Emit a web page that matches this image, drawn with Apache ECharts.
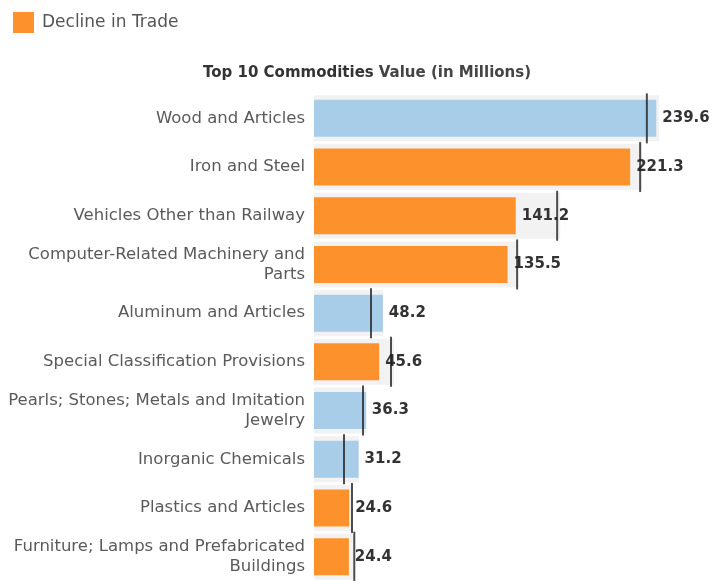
<!DOCTYPE html>
<html>
<head>
<meta charset="utf-8">
<script src="https://cdn.jsdelivr.net/npm/echarts@6/dist/echarts.min.js"></script>
<style>
  html, body { margin: 0; padding: 0; background: #ffffff; }
  #chart { width: 721px; height: 581px; }
</style>
</head>
<body>
<div id="chart"></div>
<script>
// Commodity names (line breaks where the labels wrap)
var commodities = [
  'Wood and Articles',
  'Iron and Steel',
  'Vehicles Other than Railway',
  'Computer-Related Machinery and\nParts',
  'Aluminum and Articles',
  'Special Classification Provisions',
  'Pearls; Stones; Metals and Imitation\nJewelry',
  'Inorganic Chemicals',
  'Plastics and Articles',
  'Furniture; Lamps and Prefabricated\nBuildings'
];

// Current trade value, in millions
var tradeValues = [239.6, 221.3, 141.2, 135.5, 48.2, 45.6, 36.3, 31.2, 24.6, 24.4];

// Comparison value shown by the vertical marker
var markerValues = [233.0, 228.3, 170.2, 142.2, 39.9, 53.9, 34.3, 21.0, 26.6, 28.2];

// Extent of the light grey range band behind each bar
var bandValues = [241.5, 229.7, 172.3, 142.9, 48.3, 56.0, 36.9, 31.5, 26.6, 28.2];

// Whether the commodity's trade declined
var declined = [false, true, true, true, false, true, false, false, true, true];

var ORANGE = '#fd912b';
var BLUE = '#a7cde9';
var FONT = 'DejaVu Sans';

function pick(flag) {
  return tradeValues.map(function (v, i) { return declined[i] === flag ? v : '-'; });
}

var valueLabel = {
  show: true,
  position: 'right',
  distance: 6,
  color: '#333333',
  fontFamily: FONT,
  fontSize: 15,
  fontWeight: 'bold'
};

var chart = echarts.init(document.getElementById('chart'), null, { renderer: 'canvas' });

chart.setOption({
  animation: false,
  backgroundColor: '#ffffff',
  title: {
    text: '{b|Top 10 Commodities} {n|Value (in Millions)}',
    left: 203,
    top: 64,
    padding: 0,
    textStyle: {
      rich: {
        b: { fontFamily: FONT, fontSize: 15, fontWeight: 'bold', color: '#333333' },
        n: { fontFamily: FONT, fontSize: 15, color: '#444444' }
      }
    }
  },
  legend: {
    left: 13,
    top: 12,
    padding: 0,
    itemWidth: 21,
    itemHeight: 21,
    data: [{ name: 'Decline in Trade', icon: 'rect' }],
    textStyle: { fontFamily: FONT, fontSize: 17, color: '#555555', padding: [0, 0, 0, 3] }
  },
  grid: { left: 314, right: 7, top: 94, bottom: 0, containLabel: false },
  xAxis: {
    type: 'value',
    min: 0,
    max: 280,
    show: false
  },
  yAxis: [
    {
      type: 'category',
      inverse: true,
      data: commodities,
      axisLine: { show: false },
      axisTick: { show: false },
      splitLine: { show: false },
      axisLabel: {
        margin: 9,
        fontFamily: FONT,
        fontSize: 16.5,
        lineHeight: 20,
        color: '#5a5a5a',
        align: 'right'
      }
    },
    {
      type: 'category',
      inverse: true,
      data: commodities,
      show: false
    }
  ],
  series: [
    {
      name: 'Range',
      type: 'bar',
      yAxisIndex: 1,
      barWidth: 46,
      silent: true,
      itemStyle: { color: '#f2f2f2' },
      data: bandValues,
      z: 1
    },
    {
      name: 'Decline in Trade',
      type: 'bar',
      yAxisIndex: 0,
      barWidth: 37,
      barGap: '-100%',
      itemStyle: { color: ORANGE },
      label: valueLabel,
      data: pick(true),
      z: 2
    },
    {
      name: 'Growth in Trade',
      type: 'bar',
      yAxisIndex: 0,
      barWidth: 37,
      barGap: '-100%',
      itemStyle: { color: BLUE },
      label: valueLabel,
      data: pick(false),
      z: 2
    },
    {
      name: 'Marker',
      type: 'scatter',
      yAxisIndex: 0,
      symbol: 'rect',
      symbolSize: [2, 50],
      itemStyle: { color: '#222222' },
      data: markerValues,
      z: 5
    }
  ]
});
</script>
</body>
</html>
